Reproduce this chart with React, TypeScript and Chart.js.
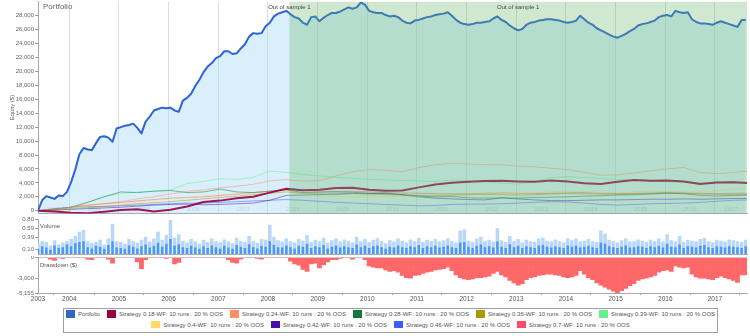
import React, { useEffect, useRef } from 'react';
import { Chart, registerables } from 'chart.js';

Chart.register(...registerables);

const FONT = '"Liberation Sans", Arial, Helvetica, sans-serif';
Chart.defaults.font.family = FONT;

// ---- axis definitions ----
const X_START = 2003.37; // first trading day shown (May 2003)
const X_END = 2017.645; // last trading day shown (Aug 2017)
const OOS_START = 2008.43; // start of "Out of sample 1"
const OOS_LABEL = 'Out of sample 1';
const YEAR_TICKS = [2004, 2005, 2006, 2007, 2008, 2009, 2010, 2011, 2012, 2013, 2014, 2015, 2016, 2017];
const YEAR_BANDS = [2003, 2004, 2005, 2006, 2007, 2008, 2009, 2010, 2011, 2012, 2013, 2014, 2015, 2016, 2017];
const EQUITY_TICKS = [0, 2000, 4000, 6000, 8000, 10000, 12000, 14000, 16000, 18000, 20000, 22000, 24000, 26000, 28000];
const VOLUME_TICKS = [0.1, 0.39, 0.59, 0.8];
const DRAWDOWN_TICKS = [0, -3000, -5155];

// ---- series (portfolio / volume / drawdown: monthly, strategies: every 4 months) ----
const portfolio = [
  0, 1500, 2100, 1900, 1700, 2200, 2100, 2700, 4100, 5900,
  8100, 9000, 8800, 8700, 9700, 10600, 10700, 10500, 9900, 11800,
  12000, 12200, 12300, 12500, 11900, 11100, 12800, 13500, 14400, 14600,
  14800, 14700, 14800, 14400, 14200, 15800, 16200, 16800, 17900, 18800,
  19900, 20700, 21200, 21900, 22200, 22900, 22900, 22500, 22600, 23300,
  23900, 25000, 25500, 25400, 25500, 26500, 27000, 27900, 28300, 28500,
  28700, 28200, 27800, 27600, 27000, 26700, 27800, 27900, 27200, 27700,
  28100, 28400, 28400, 28600, 28900, 29200, 29000, 29200, 29900, 29600,
  28700, 28500, 28400, 28400, 28100, 27900, 28000, 27800, 27300, 27000,
  26900, 27300, 27400, 27600, 27800, 27900, 28100, 28200, 28300, 28500,
  28000, 27400, 27000, 26800, 26700, 26800, 27000, 27000, 27100, 27200,
  27600, 27900, 27400, 27100, 26600, 26200, 25900, 26100, 26700, 27000,
  27100, 27300, 27400, 27500, 27500, 27400, 27300, 27100, 27000, 27100,
  27300, 28000, 27500, 27000, 26700, 26200, 25900, 25600, 25300, 25000,
  24850, 25100, 25400, 25800, 26100, 26600, 26800, 26900, 27100, 27300,
  27800, 28000, 28100, 27900, 28700, 28500, 28400, 28500, 27500, 27100,
  26900, 26900, 26800, 26700, 27000, 27200, 27000, 26800, 26600, 26400,
  27400, 27400,
];

const s018 = [0, -100, -300, -350, -150, 100, 200, -100, 150, 600, 1250, 1450, 1800, 2000, 2600, 3150, 2950, 3000, 3250, 3300, 3000, 2850, 2900, 3350, 3750, 4000, 4150, 4250, 4300, 4200, 4150, 4350, 4200, 3950, 3850, 4150, 4400, 4300, 4350, 4200, 3850, 4050, 4100, 3950];
const s024 = [0, 200, 500, 800, 1000, 1300, 1700, 2000, 2400, 2800, 3000, 3300, 3500, 3800, 4300, 4450, 4250, 4300, 5000, 5600, 5900, 5800, 5600, 6200, 6600, 6800, 6700, 6600, 6600, 6400, 6300, 6100, 5900, 5500, 5100, 5150, 5400, 5700, 6000, 6200, 5500, 5300, 5500, 5700];
const s028 = [0, 200, 500, 1200, 2000, 2700, 2600, 2800, 2900, 2600, 2700, 3100, 2700, 2600, 2800, 3000, 2600, 2650, 2700, 2650, 2500, 2450, 2300, 2100, 2000, 2050, 1850, 1800, 1850, 1800, 1900, 1950, 2000, 2100, 2150, 2250, 2300, 2400, 2500, 2450, 2200, 2100, 2200, 2250];
const s036 = [0, 150, 300, 450, 600, 800, 1000, 1150, 1300, 1500, 1700, 1900, 2100, 2300, 2500, 2700, 2500, 2400, 2350, 2450, 2400, 2300, 2250, 2200, 2150, 2250, 2300, 2350, 2300, 2250, 2300, 2400, 2500, 2450, 2400, 2350, 2400, 2450, 2550, 2500, 2400, 2350, 2300, 2300];
const s039 = [0, 100, 500, 1200, 2000, 2500, 2700, 2800, 3000, 3900, 4200, 4600, 4500, 4800, 5700, 5500, 5200, 5000, 4800, 4650, 4500, 4400, 4350, 4250, 4200, 4400, 4300, 4150, 3950, 3850, 4200, 4700, 4900, 4750, 4600, 4500, 4400, 4300, 4150, 4100, 4050, 4100, 4150, 4100];
const s040 = [0, 200, 400, 700, 900, 1100, 1300, 1500, 1700, 1900, 2100, 2300, 2400, 2600, 2800, 2900, 2300, 2100, 2000, 2000, 2100, 2000, 2050, 2100, 2200, 2300, 2400, 2500, 2500, 2450, 2600, 2700, 2800, 2750, 2650, 2600, 2700, 2800, 2750, 2700, 2700, 2900, 3100, 3200];
const s042 = [0, 100, 200, 300, 400, 500, 650, 800, 900, 950, 850, 900, 1000, 1100, 1500, 2200, 2250, 2300, 2400, 2500, 2450, 2500, 2300, 2000, 1800, 1700, 1600, 1550, 1850, 1700, 1550, 1450, 1450, 1500, 1550, 1550, 1600, 1650, 1650, 1700, 1650, 1700, 1750, 1750];
const s046 = [0, 300, 500, 600, 600, 700, 800, 900, 1000, 1100, 1100, 1200, 1300, 1400, 1500, 1600, 1500, 1350, 1200, 1100, 1000, 900, 800, 700, 750, 900, 950, 950, 1000, 1100, 1200, 1300, 1250, 1100, 900, 800, 900, 1000, 1050, 1100, 1200, 1350, 1500, 1550];
const s070 = [0, 250, 500, 800, 1000, 1200, 1400, 1600, 1800, 1900, 2000, 2200, 2400, 2600, 2800, 3050, 2900, 2800, 2750, 2800, 2700, 2600, 2550, 2500, 2450, 2400, 2450, 2500, 2550, 2500, 2450, 2500, 2550, 2600, 2500, 2450, 2500, 2550, 2600, 2550, 2500, 2450, 2500, 2500];

const volumeHigh = [
  0.25, 0.30, 0.28, 0.20, 0.32, 0.22, 0.27, 0.30, 0.35, 0.42, 0.52, 0.56, 0.30, 0.25, 0.28, 0.33, 0.22, 0.36, 0.70, 0.30,
  0.28, 0.24, 0.35, 0.30, 0.26, 0.33, 0.40, 0.29, 0.36, 0.52, 0.33, 0.45, 0.80, 0.38, 0.46, 0.31, 0.27, 0.35, 0.30, 0.24,
  0.33, 0.28, 0.36, 0.30, 0.27, 0.34, 0.29, 0.25, 0.38, 0.31, 0.28, 0.42, 0.30, 0.26, 0.35, 0.33, 0.68, 0.40, 0.32, 0.29,
  0.36, 0.30, 0.27, 0.35, 0.31, 0.44, 0.28, 0.33, 0.30, 0.38, 0.26, 0.32, 0.36, 0.29, 0.34, 0.31, 0.27, 0.40, 0.30, 0.35,
  0.28, 0.33, 0.37, 0.30, 0.25, 0.32, 0.29, 0.36, 0.31, 0.27, 0.34, 0.30, 0.38, 0.28, 0.33, 0.30, 0.35, 0.29, 0.32, 0.36,
  0.30, 0.27, 0.55, 0.57, 0.31, 0.28, 0.36, 0.40, 0.30, 0.33, 0.29, 0.60, 0.32, 0.28, 0.42, 0.30, 0.35, 0.27, 0.33, 0.30,
  0.28, 0.36, 0.38, 0.31, 0.29, 0.34, 0.30, 0.27, 0.37, 0.32, 0.36, 0.29, 0.31, 0.35, 0.30, 0.28, 0.55, 0.47, 0.33, 0.30,
  0.27, 0.32, 0.36, 0.29, 0.30, 0.34, 0.31, 0.28, 0.33, 0.30, 0.36, 0.29, 0.46, 0.32, 0.30, 0.42, 0.28, 0.33, 0.31, 0.29,
  0.35, 0.38, 0.30, 0.27, 0.33, 0.31, 0.29, 0.34, 0.32, 0.30, 0.28, 0.33,
];
const volumeLow = [
  0.12, 0.18, 0.15, 0.10, 0.20, 0.14, 0.16, 0.22, 0.18, 0.25, 0.28, 0.30, 0.16, 0.13, 0.19, 0.17, 0.12, 0.21, 0.30, 0.15,
  0.14, 0.12, 0.20, 0.17, 0.13, 0.18, 0.22, 0.15, 0.19, 0.26, 0.17, 0.24, 0.35, 0.20, 0.23, 0.16, 0.14, 0.19, 0.15, 0.12,
  0.18, 0.14, 0.20, 0.16, 0.13, 0.19, 0.15, 0.12, 0.21, 0.17, 0.14, 0.23, 0.16, 0.13, 0.19, 0.17, 0.30, 0.21, 0.16, 0.15,
  0.20, 0.16, 0.13, 0.19, 0.17, 0.24, 0.14, 0.18, 0.16, 0.21, 0.13, 0.17, 0.20, 0.15, 0.18, 0.16, 0.14, 0.22, 0.16, 0.19,
  0.14, 0.18, 0.20, 0.16, 0.12, 0.17, 0.15, 0.20, 0.16, 0.14, 0.18, 0.16, 0.21, 0.14, 0.18, 0.16, 0.19, 0.15, 0.17, 0.20,
  0.16, 0.14, 0.27, 0.28, 0.17, 0.14, 0.19, 0.22, 0.16, 0.18, 0.15, 0.29, 0.17, 0.14, 0.23, 0.16, 0.19, 0.14, 0.18, 0.16,
  0.14, 0.20, 0.21, 0.17, 0.15, 0.18, 0.16, 0.14, 0.20, 0.17, 0.19, 0.15, 0.17, 0.19, 0.16, 0.14, 0.27, 0.24, 0.18, 0.16,
  0.14, 0.17, 0.20, 0.15, 0.16, 0.18, 0.17, 0.14, 0.18, 0.16, 0.19, 0.15, 0.24, 0.17, 0.16, 0.22, 0.14, 0.18, 0.17, 0.15,
  0.19, 0.21, 0.16, 0.14, 0.18, 0.17, 0.15, 0.18, 0.17, 0.16, 0.14, 0.18,
];
const drawdown = [
  0, 0, 0, -200, -400, 0, -100, 0, 0, 0,
  0, 0, -200, -300, 0, 0, 0, -200, -800, 0,
  0, 0, 0, 0, -600, -1600, -300, 0, 0, 0,
  0, -100, 0, -900, -700, 0, 0, 0, 0, 0,
  0, 0, 0, 0, 0, 0, -300, -700, -800, -200,
  0, 0, 0, -100, -200, 0, 0, 0, 0, 0,
  0, -500, -900, -1100, -1700, -2000, -900, -800, -1500, -1000,
  -600, -300, -300, -100, 0, 0, -200, 0, 0, -300,
  -1200, -1400, -1500, -1500, -1800, -2000, -1900, -2100, -2600, -2900,
  -3000, -2600, -2500, -2300, -2100, -2000, -1800, -1700, -1600, -1400,
  -1900, -2500, -2900, -3100, -3200, -3100, -2900, -2900, -2800, -2700,
  -2300, -2000, -2500, -2800, -3300, -3700, -4000, -3800, -3200, -2900,
  -2800, -2600, -2500, -2400, -2400, -2500, -2600, -2800, -2900, -2800,
  -2600, -1900, -2400, -2900, -3200, -3700, -4000, -4300, -4600, -4900,
  -5155, -4800, -4500, -4100, -3800, -3300, -3100, -3000, -2800, -2600,
  -2100, -1900, -1800, -2000, -1200, -1400, -1500, -1400, -2400, -2800,
  -3000, -3000, -3100, -3200, -2900, -2700, -2900, -3100, -3300, -3600,
  -2500, -2500,
];

const PORTFOLIO_NAME = 'Portfolio';
const PORTFOLIO_COLOR = '#3366cc';
const STRATEGY_NAMES = [
  'Strategy 0.18-WF: 10 runs : 20 % OOS',
  'Strategy 0.24-WF: 10 runs : 20 % OOS',
  'Strategy 0.28-WF: 10 runs : 20 % OOS',
  'Strategy 0.36-WF: 10 runs : 20 % OOS',
  'Strategy 0.39-WF: 10 runs : 20 % OOS',
  'Strategy 0.4-WF: 10 runs : 20 % OOS',
  'Strategy 0.42-WF: 10 runs : 20 % OOS',
  'Strategy 0.46-WF: 10 runs : 20 % OOS',
  'Strategy 0.7-WF: 10 runs : 20 % OOS',
];
const STRATEGY_COLORS = ['#990044', '#ff8f5e', '#117a3a', '#a89a00', '#66f08a', '#ffd966', '#4a10a8', '#3b5cff', '#ff4a6a'];
const STRATEGY_VALUES = [s018, s024, s028, s036, s039, s040, s042, s046, s070];

const MONTH_STEP = 1 / 12;
const STRATEGY_STEP = 4 / 12;

function alpha(hex: string, a: number) {
  const n = parseInt(hex.slice(1), 16);
  return `rgba(${(n >> 16) & 255},${(n >> 8) & 255},${n & 255},${a})`;
}

const fixY = (w: number) => (s: any) => {
  s.width = w;
  s.paddingTop = 0;
  s.paddingBottom = 0;
};
const fixX = (h: number) => (s: any) => {
  s.height = h;
  s.paddingLeft = 0;
  s.paddingRight = 0;
};

const mainOverlay = {
  id: 'mainOverlay',
  afterDatasetsDraw(chart: any) {
    const { ctx, chartArea: a, scales } = chart;
    const x = scales.x;
    const x0 = x.getPixelForValue(OOS_START);
    ctx.save();
    ctx.fillStyle = 'rgba(100,180,100,0.3)';
    ctx.fillRect(x0, a.top, a.right - x0, a.bottom - a.top);
    ctx.font = `6px ${FONT}`;
    ctx.textAlign = 'center';
    ctx.textBaseline = 'middle';
    ctx.fillStyle = 'rgba(0,0,0,0.13)';
    YEAR_BANDS.forEach((yr) => {
      const lo = Math.max(yr, X_START);
      const hi = Math.min(yr + 1, X_END);
      ctx.fillText(String(yr), x.getPixelForValue((lo + hi) / 2), a.bottom - 4.5);
    });
    ctx.fillStyle = '#444';
    ctx.fillText(OOS_LABEL, x0, a.top + 5.5);
    ctx.fillText(OOS_LABEL, (x0 + a.right) / 2, a.top + 5.5);
    ctx.font = `8px ${FONT}`;
    ctx.textAlign = 'left';
    ctx.fillStyle = '#666';
    ctx.fillText(PORTFOLIO_NAME, a.left + 5, a.top + 5);
    ctx.restore();
  },
};

const panelLabel = (text: string, dy: number) => ({
  id: 'panelLabel',
  afterDatasetsDraw(chart: any) {
    const { ctx, chartArea: a } = chart;
    ctx.save();
    ctx.font = `6px ${FONT}`;
    ctx.textAlign = 'left';
    ctx.textBaseline = 'middle';
    ctx.fillStyle = '#555';
    ctx.fillText(text, a.left + 2, a.top + dy);
    ctx.restore();
  },
});

export default function App() {
  const mainRef = useRef<HTMLCanvasElement>(null);
  const volRef = useRef<HTMLCanvasElement>(null);
  const ddRef = useRef<HTMLCanvasElement>(null);

  useEffect(() => {
    const charts: Chart[] = [];
    const monthly = (arr: number[]) => arr.map((v, i) => ({ x: X_START + i * MONTH_STEP, y: v }));
    const quarterly = (arr: number[]) => arr.map((v, i) => ({ x: X_START + i * STRATEGY_STEP, y: v }));

    const yTickFont = { size: 6 };

    charts.push(
      new Chart(mainRef.current as HTMLCanvasElement, {
        type: 'line',
        data: {
          datasets: [
            {
              label: PORTFOLIO_NAME,
              data: monthly(portfolio),
              borderColor: '#2f63d6',
              borderWidth: 2,
              fill: 'start',
              backgroundColor: 'rgba(170,220,248,0.45)',
            },
            ...STRATEGY_NAMES.map((name, k) => ({
              label: name,
              data: quarterly(STRATEGY_VALUES[k]),
              borderColor: k === 0 ? alpha(STRATEGY_COLORS[k], 0.9) : alpha(STRATEGY_COLORS[k], 0.5),
              borderWidth: k === 0 ? 2 : 1,
              fill: false,
            })),
          ],
        } as any,
        options: {
          animation: false,
          responsive: false,
          devicePixelRatio: 1,
          layout: { padding: { top: 1.8, right: 3, left: 0, bottom: 0 } },
          elements: { point: { radius: 0 }, line: { tension: 0, borderJoinStyle: 'round' } },
          plugins: {
            legend: { display: false },
            tooltip: { enabled: false },
            filler: { drawTime: 'beforeDatasetsDraw' },
          } as any,
          scales: {
            x: {
              type: 'linear',
              min: X_START,
              max: X_END,
              offset: false,
              afterBuildTicks: (s: any) => {
                s.ticks = YEAR_TICKS.map((v) => ({ value: v }));
              },
              afterFit: fixX(2.5),
              ticks: { display: false },
              grid: { color: '#dcdcdc', drawTicks: false },
              border: { display: true, color: '#aaa' },
            },
            y: {
              min: -400,
              max: 30000,
              afterBuildTicks: (s: any) => {
                s.ticks = EQUITY_TICKS.map((v) => ({ value: v }));
              },
              afterFit: fixY(38),
              ticks: {
                font: yTickFont,
                color: '#666',
                padding: 1,
                autoSkip: false,
                callback: (v: any) => Number(v).toLocaleString('en-US'),
              },
              grid: { drawOnChartArea: false, tickLength: 3, color: '#999' },
              border: { color: '#aaa' },
              title: {
                display: true,
                text: 'Equity ($)',
                font: { size: 6 },
                color: '#666',
                padding: { top: 9, bottom: 0 },
              },
            },
          } as any,
        },
        plugins: [mainOverlay],
      })
    );

    charts.push(
      new Chart(volRef.current as HTMLCanvasElement, {
        type: 'bar',
        data: {
          datasets: [
            {
              label: 'Volume',
              data: monthly(volumeLow),
              backgroundColor: '#4c98f2',
              grouped: false,
              barPercentage: 0.6,
              categoryPercentage: 1,
            },
            {
              label: 'Volume (peak)',
              data: monthly(volumeHigh),
              backgroundColor: '#b8d7fb',
              grouped: false,
              barPercentage: 0.85,
              categoryPercentage: 1,
            },
          ],
        } as any,
        options: {
          animation: false,
          responsive: false,
          devicePixelRatio: 1,
          layout: { padding: { top: 3.7, right: 3, left: 0, bottom: 0 } },
          plugins: { legend: { display: false }, tooltip: { enabled: false } },
          scales: {
            x: {
              type: 'linear',
              min: X_START,
              max: X_END,
              offset: false,
              afterFit: fixX(2),
              ticks: { display: false },
              grid: { display: false },
              border: { display: true, color: '#aaa' },
            },
            y: {
              min: 0,
              max: 0.8,
              afterBuildTicks: (s: any) => {
                s.ticks = VOLUME_TICKS.map((v) => ({ value: v }));
              },
              afterFit: fixY(38),
              ticks: {
                font: yTickFont,
                color: '#666',
                padding: 1,
                autoSkip: false,
                callback: (v: any) => Number(v).toFixed(2),
              },
              grid: { drawOnChartArea: false, tickLength: 3, color: '#999' },
              border: { color: '#aaa' },
            },
          } as any,
        },
        plugins: [panelLabel('Volume', 6.3)],
      })
    );

    charts.push(
      new Chart(ddRef.current as HTMLCanvasElement, {
        type: 'bar',
        data: {
          datasets: [
            {
              label: 'Drawdown ($)',
              data: monthly(drawdown),
              backgroundColor: '#ff6868',
              barPercentage: 1,
              categoryPercentage: 1,
            },
          ],
        } as any,
        options: {
          animation: false,
          responsive: false,
          devicePixelRatio: 1,
          layout: { padding: { top: 1.7, right: 3, left: 0, bottom: 0 } },
          plugins: { legend: { display: false }, tooltip: { enabled: false } },
          scales: {
            x: {
              type: 'linear',
              min: X_START,
              max: X_END,
              offset: false,
              afterBuildTicks: (s: any) => {
                s.ticks = [X_START, ...YEAR_TICKS].map((v) => ({ value: v }));
              },
              afterFit: fixX(13),
              ticks: {
                font: { size: 6.5 },
                color: '#555',
                padding: 0,
                maxRotation: 0,
                autoSkip: false,
                callback: (v: any) => String(Math.floor(Number(v))),
              },
              grid: { drawOnChartArea: false, tickLength: 2, color: '#999' },
              border: { display: true, color: '#aaa' },
            },
            y: {
              min: -5155,
              max: 0,
              afterBuildTicks: (s: any) => {
                s.ticks = DRAWDOWN_TICKS.map((v) => ({ value: v }));
              },
              afterFit: fixY(38),
              ticks: {
                font: yTickFont,
                color: '#666',
                padding: 1,
                autoSkip: false,
                callback: (v: any) => Number(v).toLocaleString('en-US'),
              },
              grid: {
                tickLength: 3,
                tickColor: '#999',
                color: (c: any) => (c.tick && c.tick.value === 0 ? '#cfcfcf' : 'rgba(0,0,0,0)'),
              },
              border: { color: '#aaa' },
            },
          } as any,
        },
        plugins: [panelLabel('Drawdown ($)', 7.5)],
      })
    );

    return () => charts.forEach((c) => c.destroy());
  }, []);

  const legendItems = [
    { name: PORTFOLIO_NAME, color: PORTFOLIO_COLOR },
    ...STRATEGY_NAMES.map((name, k) => ({ name, color: STRATEGY_COLORS[k] })),
  ];
  const legendRows = [legendItems.slice(0, 6), legendItems.slice(6)];

  return (
    <div
      style={{
        position: 'absolute',
        left: 0,
        top: 0,
        width: 750,
        height: 336,
        background: '#fff',
        fontFamily: FONT,
        overflow: 'hidden',
      }}
    >
      <canvas ref={mainRef} width={750} height={216} style={{ position: 'absolute', left: 0, top: 0 }} />
      <canvas ref={volRef} width={750} height={40} style={{ position: 'absolute', left: 0, top: 216 }} />
      <canvas ref={ddRef} width={750} height={50} style={{ position: 'absolute', left: 0, top: 256 }} />
      <div
        style={{
          position: 'absolute',
          left: 63,
          top: 308,
          width: 655,
          height: 25,
          boxSizing: 'border-box',
          border: '1px solid #a0a0a0',
          display: 'flex',
          flexDirection: 'column',
          alignItems: 'center',
          justifyContent: 'flex-start',
          paddingTop: 1,
          rowGap: 2.6,
          fontSize: 6,
          color: '#555',
        }}
      >
        {legendRows.map((row, r) => (
          <div key={r} style={{ display: 'flex', alignItems: 'center', columnGap: 7, whiteSpace: 'nowrap', height: 8, lineHeight: '8px' }}>
            {row.map((it) => (
              <div key={it.name} style={{ display: 'flex', alignItems: 'center' }}>
                <span style={{ display: 'inline-block', width: 9, height: 7.5, background: it.color, marginRight: 3 }} />
                <span>{it.name}</span>
              </div>
            ))}
          </div>
        ))}
      </div>
    </div>
  );
}
